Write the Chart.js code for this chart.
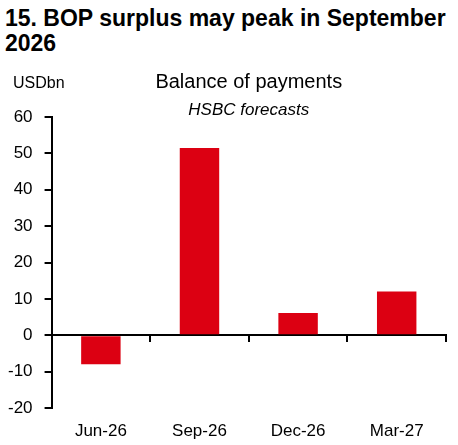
<!DOCTYPE html>
<html>
<head>
<meta charset="utf-8">
<script src="https://cdn.jsdelivr.net/npm/chart.js@4.4.1/dist/chart.umd.min.js"></script>
<style>
  html, body { margin: 0; padding: 0; background: #fff; }
  body { width: 458px; height: 445px; position: relative; overflow: hidden; font-family: "Liberation Sans", Arial, sans-serif; }
  #heading { position: absolute; left: 5px; top: 6px; width: 450px; font-weight: bold; font-size: 23px; line-height: 25px; color: #000; }
  #wrap { position: absolute; left: 0; top: 60px; width: 458px; height: 385px; }
</style>
</head>
<body>
<div id="heading">15. BOP surplus may peak in September 2026</div>
<div id="wrap"><canvas id="bopChart"></canvas></div>
<script>
// values
const quarters = ['Jun-26', 'Sep-26', 'Dec-26', 'Mar-27'];
const bopValues = [-8, 51.5, 6.1, 12];
const unitLabel = 'USDbn';
const chartTitle = 'Balance of payments';
const chartSubtitle = 'HSBC forecasts';

const FONT = '"Liberation Sans", Arial, sans-serif';

// small label in the top left corner, above the y axis
const unitPlugin = {
    id: 'unitLabel',
    afterDraw(chart) {
        const ctx = chart.ctx;
        ctx.save();
        ctx.font = '16px ' + FONT;
        ctx.fillStyle = '#000';
        ctx.textAlign = 'left';
        ctx.textBaseline = 'alphabetic';
        ctx.fillText(unitLabel, 13, 28);
        ctx.restore();
    }
};

const ctx = document.getElementById('bopChart').getContext('2d');

new Chart(ctx, {
    type: 'bar',
    data: {
        labels: quarters,
        datasets: [{
            label: chartTitle,
            data: bopValues,
            backgroundColor: '#DC0012',
            borderWidth: 0,
            categoryPercentage: 1,
            barPercentage: 0.4
        }]
    },
    plugins: [unitPlugin],
    options: {
        responsive: true,
        maintainAspectRatio: false,
        animation: false,
        layout: {
            padding: { left: -4, right: 12, top: 0, bottom: 5 }
        },
        scales: {
            x: {
                type: 'category',
                position: { y: 0 },
                offset: true,
                grid: {
                    offset: true,
                    drawOnChartArea: false,
                    color: '#000',
                    lineWidth: 2,
                    tickLength: 6
                },
                border: { display: true, color: '#000', width: 2 },
                ticks: { display: false }
            },
            x2: {
                type: 'category',
                labels: quarters,
                position: 'bottom',
                offset: true,
                // invisible tick marks only push the labels down
                grid: { display: true, drawOnChartArea: false, color: 'rgba(0,0,0,0)', tickLength: 15 },
                border: { display: false },
                ticks: {
                    color: '#000',
                    padding: 0,
                    font: { family: FONT, size: 17, lineHeight: 1 }
                }
            },
            y: {
                min: -20,
                max: 60,
                grid: {
                    drawOnChartArea: false,
                    color: '#000',
                    lineWidth: 2,
                    tickLength: 7
                },
                border: { display: true, color: '#000', width: 2 },
                ticks: {
                    stepSize: 10,
                    color: '#000',
                    padding: 12,
                    font: { family: FONT, size: 17 }
                }
            }
        },
        plugins: {
            legend: { display: false },
            tooltip: { enabled: false },
            title: {
                display: true,
                text: chartTitle,
                fullSize: false,
                color: '#000',
                font: { family: FONT, size: 20, weight: 'normal', lineHeight: 1 },
                padding: { top: 12, bottom: 0 }
            },
            subtitle: {
                display: true,
                text: chartSubtitle,
                fullSize: false,
                color: '#000',
                font: { family: FONT, size: 17, style: 'italic', lineHeight: 1 },
                padding: { top: 10, bottom: -2 }
            }
        }
    }
});
</script>
</body>
</html>
